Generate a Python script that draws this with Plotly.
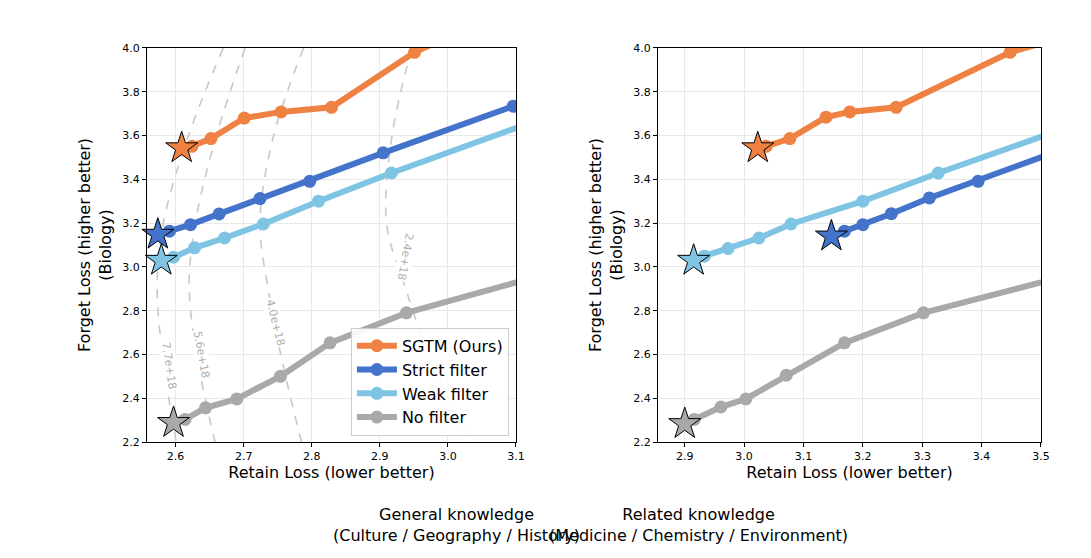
import plotly.graph_objects as go

# ---- data: left panel (General knowledge) ----
L_sgtm_x = [2.624, 2.652, 2.701, 2.755, 2.829, 2.951, 3.02]
L_sgtm_y = [3.551, 3.586, 3.680, 3.708, 3.729, 3.980, 4.08]
L_strict_x = [2.591, 2.622, 2.664, 2.724, 2.797, 2.905, 3.096]
L_strict_y = [3.163, 3.193, 3.242, 3.312, 3.391, 3.521, 3.734]
L_weak_x = [2.597, 2.628, 2.672, 2.729, 2.810, 2.917, 3.20]
L_weak_y = [3.044, 3.087, 3.132, 3.196, 3.300, 3.429, 3.747]
L_none_x = [2.614, 2.644, 2.690, 2.754, 2.827, 2.939, 3.20]
L_none_y = [2.303, 2.356, 2.397, 2.500, 2.653, 2.790, 3.015]
L_star_x = [2.609, 2.574, 2.579, 2.597]
L_star_y = [3.543, 3.148, 3.029, 2.288]

# ---- data: right panel (Related knowledge) ----
R_sgtm_x = [3.037, 3.077, 3.138, 3.178, 3.256, 3.448, 3.55]
R_sgtm_y = [3.551, 3.586, 3.684, 3.708, 3.729, 3.980, 4.06]
R_strict_x = [3.169, 3.200, 3.248, 3.312, 3.394, 3.60]
R_strict_y = [3.163, 3.193, 3.243, 3.315, 3.391, 3.60]
R_weak_x = [2.933, 2.973, 3.025, 3.079, 3.200, 3.327, 3.60]
R_weak_y = [3.049, 3.084, 3.132, 3.196, 3.300, 3.429, 3.69]
R_none_x = [2.916, 2.961, 3.003, 3.071, 3.169, 3.302, 3.60]
R_none_y = [2.303, 2.360, 2.397, 2.505, 2.653, 2.790, 3.00]
R_star_x = [3.023, 3.147, 2.915, 2.900]
R_star_y = [3.543, 3.140, 3.029, 2.283]

# ---- iso-compute contours (left panel) ----
contour_labels = ["7.7e+18", "5.6e+18", "4.0e+18", "2.4e+18"]
contour_y = [4.0, 3.6, 3.2, 2.9, 2.55, 2.2]
contour_x = [
    [2.670, 2.619, 2.582, 2.573, 2.583, 2.601],
    [2.702, 2.660, 2.629, 2.620, 2.634, 2.658],
    [2.788, 2.744, 2.724, 2.736, 2.758, 2.785],
    [2.947, 2.918, 2.910, 2.938, 2.978, 3.034],
]
label_x = [2.590, 2.638, 2.746, 2.937]
label_y = [2.548, 2.600, 2.744, 3.050]
label_angle = [82, 80, 76, 100]

names = ["SGTM (Ours)", "Strict filter", "Weak filter", "No filter"]
colors = ["#EF8143", "#4473CB", "#7FC5E3", "#A9A9A9"]

fig = go.Figure()

for cx, lab, lx, ly, ang in zip(contour_x, contour_labels, label_x, label_y, label_angle):
    fig.add_trace(go.Scatter(x=cx, y=contour_y, mode="lines", line=dict(color="#C8C8C8", width=1.6, dash="dash", shape="spline"),
                             showlegend=False, hoverinfo="skip", xaxis="x", yaxis="y"))
    fig.add_annotation(x=lx, y=ly, xref="x", yref="y", text=lab, showarrow=False, textangle=ang,
                       font=dict(size=11, color="#B0B0B0"), bgcolor="white")

panels = [
    ("x", "y", [L_sgtm_x, L_strict_x, L_weak_x, L_none_x], [L_sgtm_y, L_strict_y, L_weak_y, L_none_y], L_star_x, L_star_y, True),
    ("x2", "y2", [R_sgtm_x, R_strict_x, R_weak_x, R_none_x], [R_sgtm_y, R_strict_y, R_weak_y, R_none_y], R_star_x, R_star_y, False),
]
for xa, ya, xs, ys, sx, sy, leg in panels:
    for i in range(4):
        fig.add_trace(go.Scatter(x=xs[i], y=ys[i], mode="lines+markers", name=names[i],
                                 line=dict(color=colors[i], width=6), marker=dict(color=colors[i], size=13),
                                 showlegend=leg, xaxis=xa, yaxis=ya))
    for i in range(4):
        fig.add_trace(go.Scatter(x=[sx[i]], y=[sy[i]], mode="markers", showlegend=False,
                                 marker=dict(symbol="star", size=24, color=colors[i], line=dict(color="black", width=1)),
                                 xaxis=xa, yaxis=ya, cliponaxis=False))

ax_common = dict(showgrid=True, gridcolor="#E8E8E8", showline=True, linecolor="black", linewidth=1, mirror=True,
                 ticks="outside", ticklen=4, tickcolor="black", tickfont=dict(size=11, color="black"),
                 zeroline=False, automargin=False)
ydom = [0.0982, 0.9777]
ytitle = dict(text="Forget Loss (higher better)<br>(Biology)", font=dict(size=16), standoff=6)
xtitle = dict(text="Retain Loss (lower better)", font=dict(size=16), standoff=4)
fig.update_layout(
    width=1091, height=558, margin=dict(l=50, r=30, t=30, b=80), autosize=False,
    paper_bgcolor="white", plot_bgcolor="white",
    font=dict(family="DejaVu Sans", color="black"),
    xaxis=dict(domain=[0.0880, 0.4530], range=[2.558, 3.1], dtick=0.1, tickformat=".1f", title=xtitle, **ax_common),
    yaxis=dict(domain=ydom, range=[2.2, 4.0], dtick=0.2, tickformat=".1f", title=ytitle, **ax_common),
    xaxis2=dict(domain=[0.5935, 0.9723], range=[2.855, 3.5], dtick=0.1, tickformat=".1f", anchor="y2", title=xtitle, **ax_common),
    yaxis2=dict(domain=ydom, range=[2.2, 4.0], dtick=0.2, tickformat=".1f", anchor="x2", title=ytitle, **ax_common),
    legend=dict(x=0.446, y=0.112, xanchor="right", yanchor="bottom", xref="paper", yref="paper",
                bgcolor="rgba(255,255,255,0.9)", bordercolor="#CCCCCC", borderwidth=1, font=dict(size=16),
                itemwidth=40, tracegroupgap=0),
)
fig.add_annotation(x=0.270, y=-0.038, xref="paper", yref="paper", showarrow=False, yanchor="top",
                   text="General knowledge<br>(Culture / Geography / History)", font=dict(size=16))
fig.add_annotation(x=0.783, y=-0.038, xref="paper", yref="paper", showarrow=False, yanchor="top",
                   text="Related knowledge<br>(Medicine / Chemistry / Environment)", font=dict(size=16))

fig.write_html("out.html")
